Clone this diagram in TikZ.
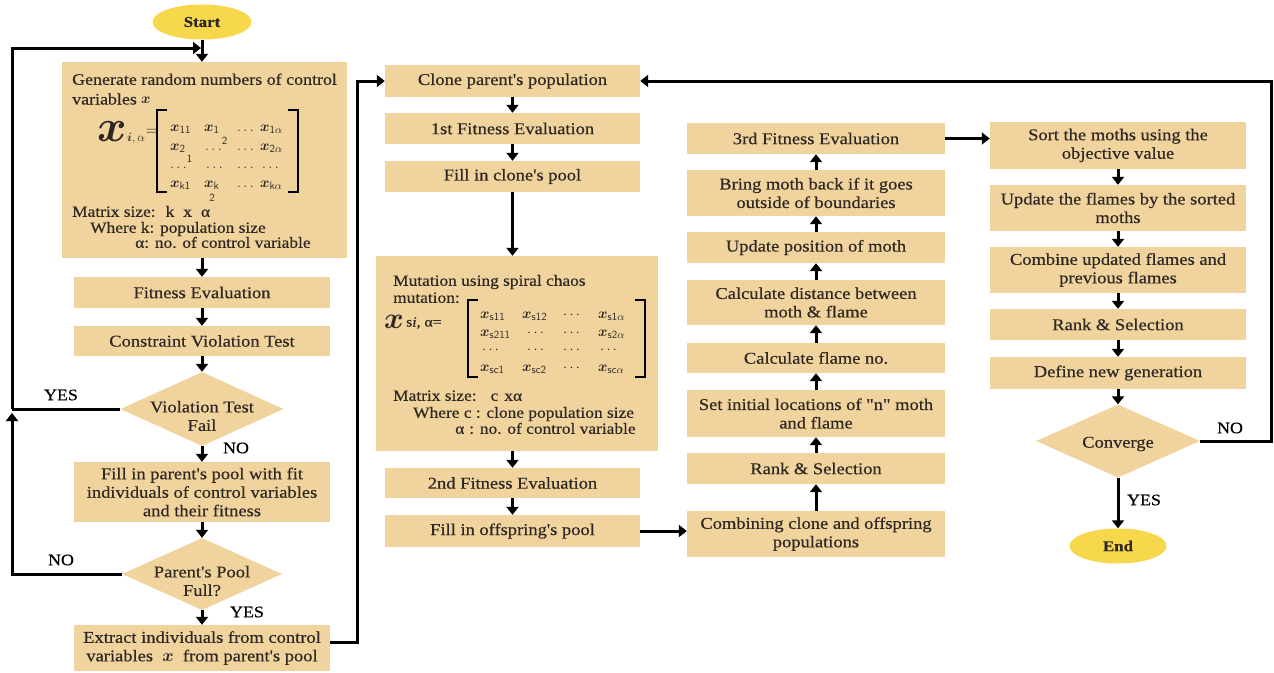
\documentclass[tikz,border=0pt]{standalone}
\usepackage{amsmath}
\usepackage{fontspec}
\setmainfont{Liberation Serif}[FakeStretch=1.12,FakeBold=0.4,Ligatures=TeXOff]
\usetikzlibrary{arrows.meta,shapes.geometric}
\definecolor{boxc}{RGB}{240,211,157}
\definecolor{ellc}{RGB}{247,215,76}
\definecolor{tc}{RGB}{45,40,35}
\begin{document}
\begin{tikzpicture}[x=1pt,y=-1pt,
  box/.style={fill=boxc,draw=none,inner sep=0pt,align=center,text=tc,font=\fontsize{16.5}{18.5}\selectfont},
  dia/.style={diamond,fill=boxc,draw=none,inner sep=0pt},
  term/.style={ellipse,fill=ellc,draw=none,inner sep=0pt,text=tc,font=\bfseries\fontsize{15}{15}\selectfont},
  txt/.style={inner sep=0pt,anchor=west,text=tc,text height=11pt,text depth=3.5pt,font=\fontsize{15.5}{18}\selectfont},
  dtxt/.style={inner sep=0pt,align=center,text=tc,font=\fontsize{16.5}{18.5}\selectfont},
  me/.style={inner sep=0pt,anchor=west,text=tc,text height=9pt,text depth=3pt,font=\fontsize{15.5}{15.5}\selectfont},
  bigx/.style={inner sep=0pt,text=tc,font=\fontsize{24}{24}\selectfont},
  lab/.style={inner sep=0pt,text=black,font=\fontsize{16}{16}\selectfont},
  conn/.style={line width=3pt},
  arr/.style={line width=3pt,-{Triangle[length=8pt,width=12pt]}},
  brk/.style={line width=2.6pt}
]
\fill[white] (0,0) rectangle (1274,672);
\useasboundingbox (0,0) rectangle (1274,672);

% ---------------- left column
\node[term,minimum width=99,minimum height=35] (start) at (202,22) {Start};
\node[box,minimum width=285,minimum height=196] (gen) at (204.5,160) {};
\node[txt,font=\fontsize{16}{18}\selectfont] (g1) at (72,81) {Generate random numbers of control};
\node[txt,font=\fontsize{16}{18}\selectfont,text depth=2pt] (g2) at (72,100) {variables};
\node[me] (g3) at (141,100) {$\boldsymbol{x}$};
\node[bigx] (bx1) at (112,132) {\scalebox{1.8}{$\boldsymbol{x}$}};
\node[inner sep=0pt,anchor=west,text=tc,font=\fontsize{13}{13}\selectfont] (bx1s) at (127,139) {$\boldsymbol{i},\alpha$};
\node[inner sep=0pt,text=tc,font=\fontsize{16}{16}\selectfont] (eq1) at (152,132) {$=$};
\draw[brk] (167,110) -- (157,110) -- (157,192) -- (167,192);
\draw[brk] (288,110) -- (298,110) -- (298,192) -- (288,192);
\node[me] (m11) at (170,128) {$\boldsymbol{x}_{\mathsf{11}}$};
\node[me] (m12) at (204,128) {$\boldsymbol{x}_{\mathsf{1}}$};
\node[me] (m13) at (237,128) {$\ldots$};
\node[me] (m14) at (260,128) {$\boldsymbol{x}_{\mathsf{1}\alpha}$};
\node[me] (m21) at (170,147) {$\boldsymbol{x}_{\mathsf{2}}$};
\node[me] (m22) at (205,147) {$\ldots^{\mathsf{2}}$};
\node[me] (m23) at (237,147) {$\ldots$};
\node[me] (m24) at (260,147) {$\boldsymbol{x}_{\mathsf{2}\alpha}$};
\node[me] (m31) at (170,165) {$\ldots^{\mathsf{1}}$};
\node[me] (m32) at (206,165) {$\ldots$};
\node[me] (m33) at (237,165) {$\ldots$};
\node[me] (m34) at (262,165) {$\ldots$};
\node[me] (m41) at (170,184) {$\boldsymbol{x}_{\mathsf{k1}}$};
\node[me] (m42) at (204,184) {$\boldsymbol{x}_{\mathsf{k}}$};
\node[me] (m43) at (237,184) {$\ldots$};
\node[me] (m44) at (260,184) {$\boldsymbol{x}_{\mathsf{k}\alpha}$};
\node[inner sep=0pt,text=tc,font=\fontsize{11}{11}\sffamily\selectfont] (m42b) at (212,198) {2};
\node[txt] (g4) at (72,213) {Matrix size:\hspace{10pt}k\hspace{9pt}x\hspace{9pt}α};
\node[txt] (g5) at (90,229) {Where k: population size};
\node[txt] (g6) at (135,244) {α: no. of control variable};

\node[box,minimum width=256,minimum height=31] (fe) at (202,292.5) {Fitness Evaluation};
\node[box,minimum width=256,minimum height=30] (cvt) at (202,341) {Constraint Violation Test};
\node[dia,minimum width=163,minimum height=74] (vt) at (202,409) {};
\node[dtxt] (vtt) at (202,416) {Violation Test\\Fail};
\node[box,minimum width=256,minimum height=60] (fp) at (202,492) {Fill in parent's pool with fit\\individuals of control variables\\and their fitness};
\node[dia,minimum width=160,minimum height=72] (pp) at (202,574) {};
\node[dtxt] (ppt) at (202,581) {Parent's Pool\\Full?};
\node[box,minimum width=256,minimum height=46] (ex) at (202,648) {Extract individuals from control\\variables \ $\boldsymbol{x}$ \ from parent's pool};

\draw[arr] (start.south) -- (start.south |- gen.north);
\draw[arr] (gen.south -| fe.north) -- (fe.north);
\draw[arr] (fe.south) -- (cvt.north);
\draw[arr] (cvt.south) -- (vt.north);
\draw[arr] (vt.south) -- (fp.north);
\draw[arr] (fp.south) -- (pp.north);
\draw[arr] (pp.south) -- (ex.north);

\node[lab] (yes1) at (61,395) {YES};
\node[lab] (no1) at (236,448) {NO};
\node[lab] (no2) at (61,560) {NO};
\node[lab] (yes2) at (247,612) {YES};

\coordinate (lA) at (12,409);
\coordinate (lD) at (12,413);
\coordinate (lB) at (12,48);
\coordinate (lC) at (201,48);
\draw[conn] (vt.west) -- (lA);
\draw[arr] (pp.west) -| (lD);
\draw[arr] (lA) -- (lB) -- (lC);

% ---------------- middle column
\node[box,minimum width=255,minimum height=32] (clone) at (512.5,81) {Clone parent's population};
\node[box,minimum width=255,minimum height=31] (f1) at (512.5,128.5) {1st Fitness Evaluation};
\node[box,minimum width=255,minimum height=31] (fc) at (512.5,176.5) {Fill in clone's pool};
\node[box,minimum width=282,minimum height=195] (mut) at (517,353.5) {};
\node[box,minimum width=255,minimum height=30] (f2) at (512.5,483) {2nd Fitness Evaluation};
\node[box,minimum width=255,minimum height=32] (fo) at (512.5,531) {Fill in offspring's pool};

\node[txt] (u1) at (393,282) {Mutation using spiral chaos};
\node[txt] (u2) at (393,299) {mutation:};
\node[bigx] (bx2) at (394,322) {\scalebox{1.2}{$\boldsymbol{x}$}};
\node[inner sep=0pt,anchor=west,text=tc,font=\fontsize{14}{14}\selectfont] (bx2s) at (406,323) {s\textit{i}, α=};
\draw[brk] (478,300) -- (468,300) -- (468,377) -- (478,377);
\node[me] (n11) at (480,315) {$\boldsymbol{x}_{\mathsf{s11}}$};
\node[me] (n12) at (522,315) {$\boldsymbol{x}_{\mathsf{s12}}$};
\node[me] (n13) at (563,315) {$\cdots$};
\node[me] (n14) at (598,315) {$\boldsymbol{x}_{\mathsf{s1}\alpha}$};
\node[me] (n21) at (480,333) {$\boldsymbol{x}_{\mathsf{s211}}$};
\node[me] (n22) at (527,333) {$\cdots$};
\node[me] (n23) at (563,333) {$\cdots$};
\node[me] (n24) at (598,333) {$\boldsymbol{x}_{\mathsf{s2}\alpha}$};
\node[me] (n31) at (482,350) {$\cdots$};
\node[me] (n32) at (527,350) {$\cdots$};
\node[me] (n33) at (563,350) {$\cdots$};
\node[me] (n34) at (600,350) {$\cdots$};
\node[me] (n41) at (480,368) {$\boldsymbol{x}_{\mathsf{sc1}}$};
\node[me] (n42) at (522,368) {$\boldsymbol{x}_{\mathsf{sc2}}$};
\node[me] (n43) at (563,368) {$\cdots$};
\node[me] (n44) at (598,368) {$\boldsymbol{x}_{\mathsf{sc}\alpha}$};
\draw[brk] (635,300) -- (645,300) -- (645,377) -- (635,377);
\node[txt] (u3) at (393,397) {Matrix size:\hspace{14pt}c\hspace{6pt}xα};
\node[txt] (u4) at (413,414) {Where c : clone population size};
\node[txt] (u5) at (455,430) {α\hspace{5pt}: no. of control variable};

\draw[arr] (clone.south) -- (f1.north);
\draw[arr] (f1.south) -- (fc.north);
\draw[arr] (fc.south) -- (fc.south |- mut.north);
\draw[arr] (mut.south -| f2.north) -- (f2.north);
\draw[arr] (f2.south) -- (fo.north);

\coordinate (mA) at (357,642);
\draw[arr] (ex.east |- mA) -- (mA) |- (clone.west);

% ---------------- third column
\node[box,minimum width=258,minimum height=46] (comb) at (816,534) {Combining clone and offspring\\populations};
\node[box,minimum width=258,minimum height=31] (rs1) at (816,468.5) {Rank \& Selection};
\node[box,minimum width=258,minimum height=47] (init) at (816,413.5) {Set initial locations of "n" moth\\and flame};
\node[box,minimum width=258,minimum height=30] (cfn) at (816,358) {Calculate flame no.};
\node[box,minimum width=258,minimum height=45] (cd) at (816,302.5) {Calculate distance between\\moth \& flame};
\node[box,minimum width=258,minimum height=31] (up) at (816,247.5) {Update position of moth};
\node[box,minimum width=258,minimum height=46] (bb) at (816,193) {Bring moth back if it goes\\outside of boundaries};
\node[box,minimum width=258,minimum height=31] (f3) at (816,138.5) {3rd Fitness Evaluation};

\draw[arr] (fo.east) -- (fo.east -| comb.west);
\draw[arr] (comb.north) -- (rs1.south);
\draw[arr] (rs1.north) -- (init.south);
\draw[arr] (init.north) -- (cfn.south);
\draw[arr] (cfn.north) -- (cd.south);
\draw[arr] (cd.north) -- (up.south);
\draw[arr] (up.north) -- (bb.south);
\draw[arr] (bb.north) -- (f3.south);

% ---------------- fourth column
\node[box,minimum width=256,minimum height=47] (sort) at (1118,145.5) {Sort the moths using the\\objective value};
\node[box,minimum width=256,minimum height=46] (uf) at (1118,208) {Update the flames by the sorted\\moths};
\node[box,minimum width=256,minimum height=46] (cu) at (1118,270) {Combine updated flames and\\previous flames};
\node[box,minimum width=256,minimum height=31] (rs2) at (1118,324.5) {Rank \& Selection};
\node[box,minimum width=256,minimum height=32] (dng) at (1118,373) {Define new generation};
\node[dia,minimum width=164,minimum height=73] (conv) at (1118,441) {};
\node[dtxt] (convt) at (1118,444) {Converge};
\node[term,minimum width=97,minimum height=35] (end) at (1118,546) {End};

\draw[arr] (f3.east) -- (f3.east -| sort.west);
\draw[arr] (sort.south) -- (uf.north);
\draw[arr] (uf.south) -- (cu.north);
\draw[arr] (cu.south) -- (rs2.north);
\draw[arr] (rs2.south) -- (dng.north);
\draw[arr] (dng.south) -- (conv.north);
\draw[arr] (conv.south) -- (end.north);

\node[lab] (no3) at (1230,428) {NO};
\node[lab] (yes3) at (1144,500) {YES};

\coordinate (rA) at (1271,441);
\draw[arr] (conv.east) -- (rA) |- (clone.east);
\end{tikzpicture}
\end{document}
